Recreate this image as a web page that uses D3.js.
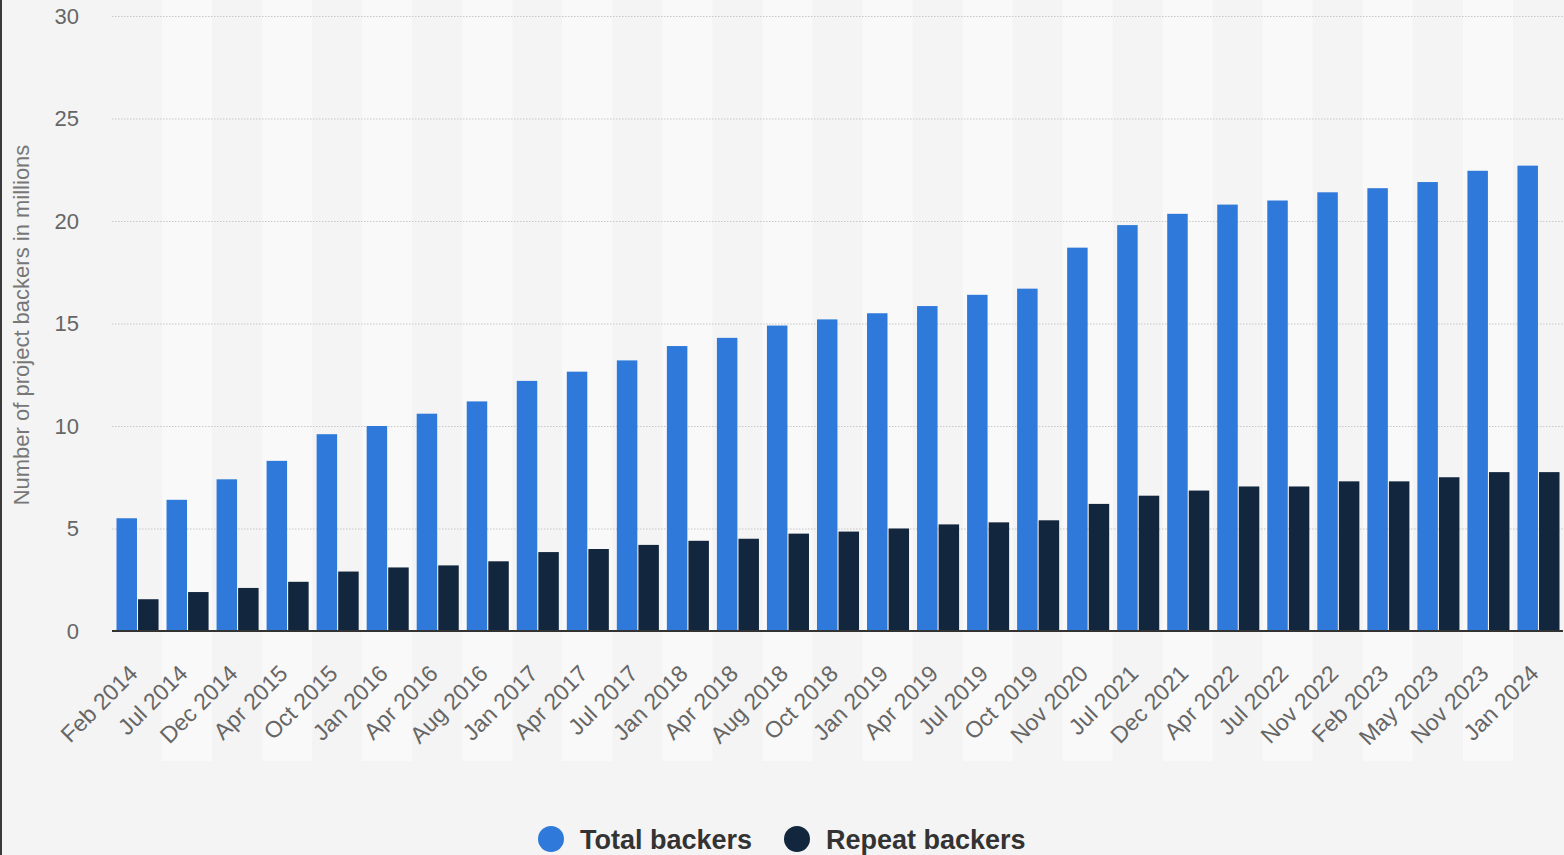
<!DOCTYPE html>
<html lang="en">
<head>
    <meta charset="UTF-8">
    <title>Project backers</title>
    <style>
        body { margin: 0; background: #f4f4f4; }
        #chart { width: 1564px; height: 855px; }
        text { font-family: "Liberation Sans", Arial, Helvetica, sans-serif; }
    </style>
</head>
<body>
    <div id="chart"></div>

    <script src="https://d3js.org/d3.v7.min.js"></script>
    <script>
        // categories and values (millions)
        const dates = ["Feb 2014", "Jul 2014", "Dec 2014", "Apr 2015", "Oct 2015", "Jan 2016", "Apr 2016",
            "Aug 2016", "Jan 2017", "Apr 2017", "Jul 2017", "Jan 2018", "Apr 2018", "Aug 2018", "Oct 2018",
            "Jan 2019", "Apr 2019", "Jul 2019", "Oct 2019", "Nov 2020", "Jul 2021", "Dec 2021", "Apr 2022",
            "Jul 2022", "Nov 2022", "Feb 2023", "May 2023", "Nov 2023", "Jan 2024"];
        const totalBackers = [5.5, 6.4, 7.4, 8.3, 9.6, 10.0, 10.6, 11.2, 12.2, 12.65, 13.2, 13.9, 14.3, 14.9, 15.2,
            15.5, 15.85, 16.4, 16.7, 18.7, 19.8, 20.35, 20.8, 21.0, 21.4, 21.6, 21.9, 22.45, 22.7];
        const repeatBackers = [1.55, 1.9, 2.1, 2.4, 2.9, 3.1, 3.2, 3.4, 3.85, 4.0, 4.2, 4.4, 4.5, 4.75, 4.85,
            5.0, 5.2, 5.3, 5.4, 6.2, 6.6, 6.85, 7.05, 7.05, 7.3, 7.3, 7.5, 7.75, 7.75];
        const seriesNames = ["Total backers", "Repeat backers"];
        const seriesColors = ["#2e79da", "#12263d"];
        const yTicks = [0, 5, 10, 15, 20, 25, 30];

        const rows = dates.map((d, i) => ({ date: d, values: [totalBackers[i], repeatBackers[i]] }));

        const W = 1564, H = 855;
        const margin = { top: 16, right: 1, bottom: 224, left: 112 };
        const width = W - margin.left - margin.right,
            height = H - margin.top - margin.bottom;

        const svg = d3.select("#chart")
            .append("svg")
                .attr("width", W)
                .attr("height", H);

        // dark border on the left edge
        svg.append("rect")
            .attr("x", 0).attr("y", 0)
            .attr("width", 2).attr("height", H)
            .attr("fill", "#3a3a3a");

        const g = svg.append("g")
            .attr("transform", `translate(${margin.left},${margin.top})`);

        const x0 = d3.scaleBand()
            .domain(dates)
            .range([0, width])
            .padding(0);

        const x1 = d3.scaleBand()
            .domain([0, 1])
            .range([4.5, x0.bandwidth() - 3.5])
            .paddingInner(0.05);

        const y = d3.scaleLinear()
            .domain([0, 30])
            .range([height, 0]);

        // alternating column bands
        g.selectAll("rect.band")
            .data(dates.filter((d, i) => i % 2 === 1))
            .enter()
            .append("rect")
            .attr("class", "band")
            .attr("x", d => x0(d))
            .attr("y", -margin.top)
            .attr("width", x0.bandwidth())
            .attr("height", height + margin.top + 130)
            .attr("fill", "#f9f9f9");

        // grid lines
        g.append("g")
            .call(d3.axisLeft(y).tickValues(yTicks).tickSize(-width - 2).tickFormat(""))
            .call(a => a.select(".domain").remove())
            .call(a => a.selectAll("line")
                .attr("stroke", "#c8c8c8")
                .attr("stroke-width", 1.2)
                .attr("stroke-dasharray", "1.5,1.5")
                .filter(d => d === 0).remove());

        // y labels
        g.append("g")
            .call(d3.axisLeft(y).tickValues(yTicks).tickSize(0).tickPadding(33))
            .call(a => a.select(".domain").remove())
            .call(a => a.selectAll("text")
                .attr("fill", "#666")
                .style("font-size", "22px"));

        // bars
        const groups = g.selectAll("g.cat")
            .data(rows)
            .enter()
            .append("g")
            .attr("class", "cat")
            .attr("transform", d => `translate(${x0(d.date)},0)`);

        groups.selectAll("rect")
            .data(d => d.values.map((v, k) => ({ k: k, v: v })))
            .enter()
            .append("rect")
            .attr("x", d => x1(d.k))
            .attr("y", d => y(d.v))
            .attr("width", x1.bandwidth())
            .attr("height", d => height - y(d.v))
            .attr("fill", d => seriesColors[d.k]);

        // baseline
        g.append("line")
            .attr("x1", 0).attr("x2", width)
            .attr("y1", height).attr("y2", height)
            .attr("stroke", "#333")
            .attr("stroke-width", 2);

        // x labels
        g.append("g")
            .attr("transform", `translate(0,${height})`)
            .call(d3.axisBottom(x0).tickSize(0).tickPadding(0))
            .call(a => a.select(".domain").remove())
            .call(a => a.selectAll("text")
                .attr("fill", "#666")
                .style("font-size", "23px")
                .attr("text-anchor", "end")
                .attr("dy", 0)
                .attr("transform", "translate(2,44) rotate(-45)"));

        // y title
        svg.append("text")
            .attr("transform", `translate(29,${margin.top + 309}) rotate(-90)`)
            .attr("text-anchor", "middle")
            .attr("fill", "#777")
            .style("font-size", "22px")
            .text("Number of project backers in millions");

        // legend
        const legend = svg.append("g").attr("transform", "translate(0,839)");
        const legendX = [551, 797];
        seriesNames.forEach((name, k) => {
            legend.append("circle")
                .attr("cx", legendX[k]).attr("cy", 0)
                .attr("r", 13)
                .attr("fill", seriesColors[k]);
            legend.append("text")
                .attr("x", legendX[k] + 29).attr("y", 0)
                .attr("dy", "0.36em")
                .attr("fill", "#333")
                .style("font-size", "27px")
                .style("font-weight", "bold")
                .text(name);
        });
    </script>
</body>
</html>
